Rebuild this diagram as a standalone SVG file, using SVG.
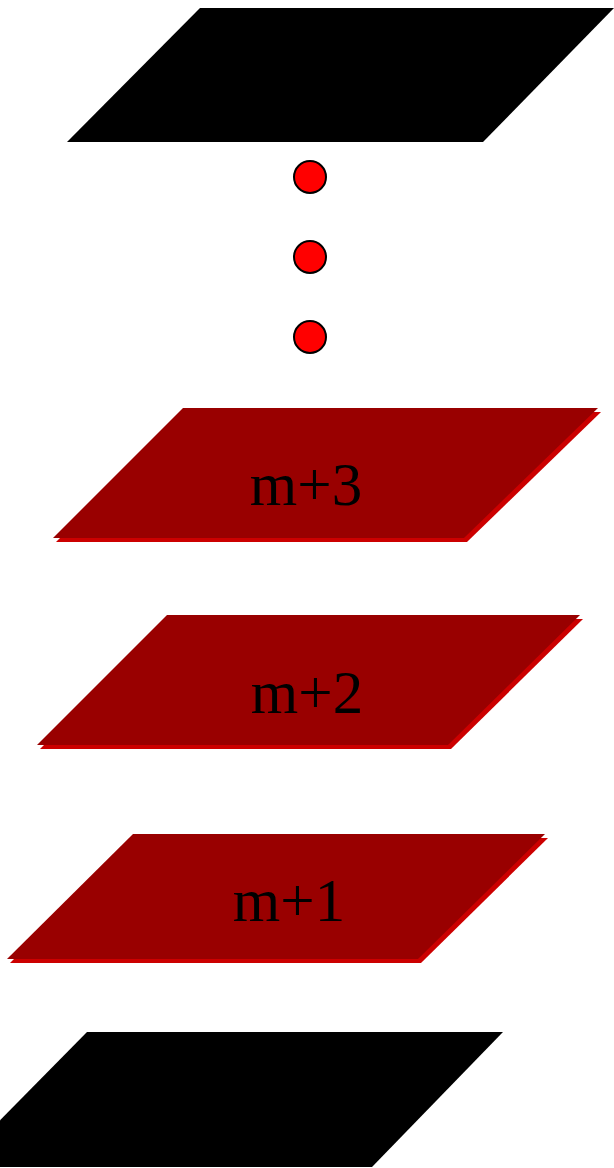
<svg xmlns="http://www.w3.org/2000/svg" width="614" height="1168" viewBox="0 0 614 1168">
<style>
.blk{fill:#000}
.shadow{fill:#cc0000}
.face{fill:#990000}
.dot{fill:#ff0000;stroke:#000;stroke-width:2}
.lbl{font-family:"Liberation Serif","Times New Roman",serif;font-size:61px;fill:#000;text-anchor:middle}
</style>
<rect width="614" height="1168" fill="#fff"/>
<g id="layer-top">
<polygon class="blk" points="200,8 614,8 483,142 67,142"/>
</g>
<g id="dots">
<circle class="dot" cx="310" cy="177" r="16"/>
<circle class="dot" cx="310" cy="257" r="16"/>
<circle class="dot" cx="310" cy="337" r="16"/>
</g>
<g id="layer-m3">
<polygon class="shadow" points="186,412 601,412 467,542 56,542"/>
<polygon class="face" points="183,408 598,408 464,538 53,538"/>
<text class="lbl" x="306" y="505">m+3</text>
</g>
<g id="layer-m2">
<polygon class="shadow" points="170,619 583,619 451,749 40,749"/>
<polygon class="face" points="167,615 580,615 448,745 37,745"/>
<text class="lbl" x="307" y="713">m+2</text>
</g>
<g id="layer-m1">
<polygon class="shadow" points="136,838 548,838 421,963 10,963"/>
<polygon class="face" points="133,834 545,834 418,959 7,959"/>
<text class="lbl" x="289" y="921">m+1</text>
</g>
<g id="layer-bottom">
<polygon class="blk" points="87,1032 503,1032 372,1167 -46,1167"/>
</g>
<g id="connectors"></g>
</svg>
